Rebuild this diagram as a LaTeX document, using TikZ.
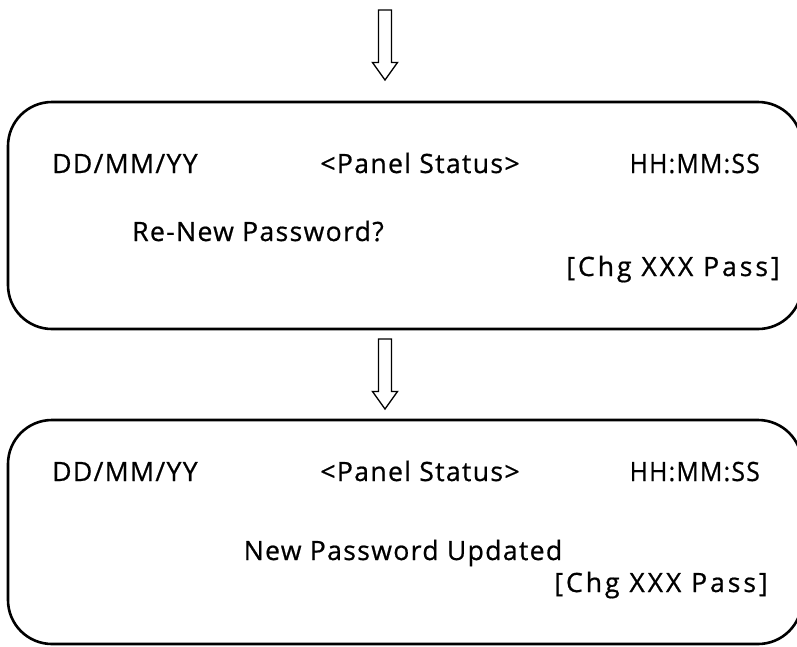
\documentclass[tikz,border=0pt]{standalone}
\usepackage{graphicx}
\usepackage{fontspec}
\setmainfont{Open Sans}[FakeBold=0.7, LetterSpace=5]
\newfontfamily\widefont{Open Sans}[FakeBold=0.7, LetterSpace=11]
\usetikzlibrary{calc}
\tikzset{
  screen/.style={draw=black, line width=2.6pt, rounded corners=44pt, minimum width=794pt, inner sep=0pt},
  lbl/.style={inner sep=0pt, font=\fontsize{26.6}{30}\selectfont},
  wide/.style={font=\widefont\fontsize{26.6}{30}\selectfont},
  blockarrow/.style={draw=black, line width=1.3pt, fill=white, line join=miter}
}
\begin{document}
\begin{tikzpicture}[x=1pt,y=-1pt]
\useasboundingbox (0,0) rectangle (797,646);
\begin{scope}
\clip (0,0) rectangle (797,646);
% screens
\node[screen, minimum height=227pt] (box1) at (405,215.5) {};
\node[screen, minimum height=224pt] (box2) at (405,532) {};
\end{scope}
% arrows
\coordinate (a1tip) at (385,80);
\coordinate (a2tip) at (385,409);
\foreach \t in {a1tip,a2tip}{
  \draw[blockarrow] ($(\t)+(-6.5,-70)$) -- ($(\t)+(6.5,-70)$) -- ($(\t)+(6.5,-17.5)$)
    -- ($(\t)+(12.5,-17.5)$) -- (\t) -- ($(\t)+(-12.5,-17.5)$) -- ($(\t)+(-6.5,-17.5)$) -- cycle;
}
% texts box 1
\node[lbl, anchor=base west] (d1) at (52,173) {DD/MM/YY};
\node[lbl, anchor=base] (p1) at (420,173) {<Panel Status>};
\node[lbl, anchor=base east] (h1) at (760,173) {\scalebox{0.93}[1]{HH:MM:SS}};
\node[lbl, anchor=base west] (m1) at (132,241) {Re-New Password?};
\node[lbl, wide, anchor=base east] (c1) at (780,276) {[Chg XXX Pass]};
% texts box 2
\node[lbl, anchor=base west] (d2) at (52,481) {DD/MM/YY};
\node[lbl, anchor=base] (p2) at (420,481) {<Panel Status>};
\node[lbl, anchor=base east] (h2) at (760,481) {\scalebox{0.93}[1]{HH:MM:SS}};
\node[lbl, anchor=base] (m2) at (403,560) {New Password Updated};
\node[lbl, wide, anchor=base east] (c2) at (768,592) {[Chg XXX Pass]};
\end{tikzpicture}
\end{document}
